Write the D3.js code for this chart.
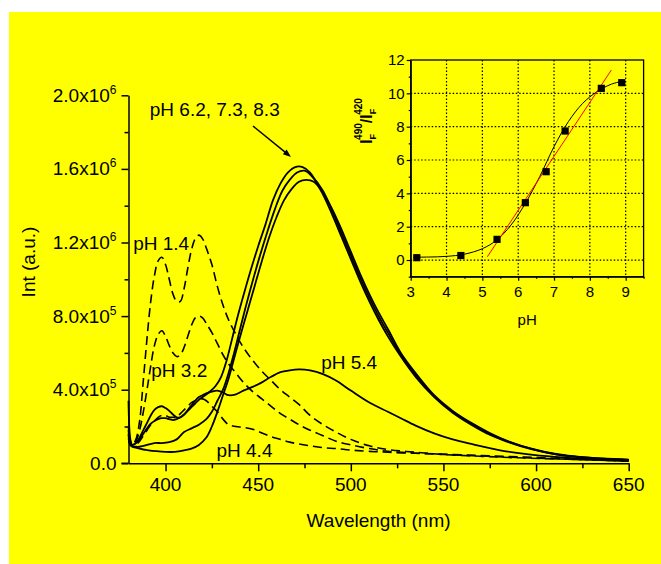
<!DOCTYPE html>
<html>
<head>
<meta charset="utf-8">
<title>Int vs wavelength</title>
<script src="https://cdn.jsdelivr.net/npm/d3@7"></script>
<style>
  body { margin: 0; background: #fff; }
  text { font-family: "Liberation Sans", Arial, sans-serif; fill: #000; }
</style>
</head>
<body>
<div id="chart"></div>
<script>

// Intensités en unités de 1e5
const UNIT = 1e5;

// --- courbes en pointillés (pH acides)
const wl_ph14  = [380,381,382,384,386,388,390,392,394,396,398,400,402,404,406,408,410,412,414,416,418,420,422,425,428,431,434,438,442,447,452,457,462,467,472,478,485,492,500,510,520,535,550,570,590,610,630,650];
const int_ph14 = [1.5,1.1,1.0,1.3,2.3,4.5,6.8,8.8,10.2,11.0,11.2,10.8,10.0,9.2,8.8,8.8,9.5,10.6,11.6,12.2,12.4,12.2,11.7,10.8,9.6,8.6,7.8,7.0,6.3,5.6,5.0,4.5,4.0,3.6,3.2,2.6,2.1,1.7,1.3,0.95,0.75,0.6,0.48,0.38,0.3,0.24,0.18,0.12];

const wl_ph32  = [380,381,382,384,386,388,390,392,394,396,398,400,402,404,406,408,410,412,414,416,418,420,422,425,428,431,434,438,442,447,452,457,462,467,472,478,485,492,500,510,520,535,550,570,590,610,630,650];
const int_ph32 = [1.4,1.0,0.95,1.2,1.8,2.8,4.0,5.3,6.4,7.0,7.2,6.9,6.4,6.0,5.8,5.9,6.3,6.9,7.5,7.9,8.0,7.9,7.6,7.1,6.5,5.9,5.4,4.9,4.4,3.9,3.5,3.1,2.7,2.4,2.1,1.8,1.5,1.2,1.0,0.8,0.65,0.55,0.48,0.4,0.32,0.25,0.18,0.12];

const wl_ph44  = [380,381,382,384,386,388,390,392,394,396,398,400,402,404,406,408,410,412,414,416,418,420,422,425,428,431,434,438,442,447,452,457,462,467,472,478,485,492,500,510,520,535,550,570,590,610,630,650];
const int_ph44 = [1.3,1.0,0.95,1.0,1.2,1.5,1.8,2.1,2.3,2.5,2.6,2.6,2.5,2.5,2.5,2.7,2.9,3.1,3.3,3.4,3.5,3.5,3.4,3.1,2.8,2.4,2.1,2.0,1.95,1.85,1.65,1.45,1.3,1.15,1.05,0.95,0.85,0.8,0.72,0.65,0.6,0.55,0.5,0.42,0.35,0.27,0.2,0.14];

// --- courbes continues
const wl_ph54  = [380,381,382,384,386,388,390,392,394,396,398,400,402,404,406,408,410,412,414,416,418,420,422,425,428,431,434,438,442,447,452,457,462,467,472,478,485,492,500,510,520,527,535,545,555,565,580,595,610,630,650];
const int_ph54 = [1.8,1.1,1.0,1.1,1.4,1.8,2.2,2.6,2.9,3.05,3.1,3.0,2.85,2.65,2.5,2.5,2.65,2.9,3.15,3.4,3.6,3.7,3.8,3.9,3.95,3.85,3.7,3.75,3.95,4.15,4.4,4.7,4.95,5.05,5.1,5.05,4.85,4.5,3.95,3.3,2.8,2.45,2.05,1.63,1.3,1.05,0.72,0.5,0.35,0.22,0.14];

const wl_ph62  = [380,381,382,384,386,388,390,392,394,396,398,400,402,404,406,408,410,412,414,416,418,420,424,427,430,433,436,439,442,446,450,454,458,462,466,470,474,478,485,490,495,500,505,510,515,520,527,535,545,555,565,575,585,598,610,625,650];
const int_ph62 = [3.4,1.3,1.0,1.1,1.3,1.6,1.9,2.15,2.3,2.4,2.45,2.45,2.4,2.35,2.4,2.5,2.65,2.85,3.05,3.25,3.45,3.6,3.9,4.2,4.7,5.6,6.8,8.0,9.1,10.5,11.8,13.0,14.3,15.2,15.8,16.1,16.1,15.8,14.6,13.5,12.3,11.1,9.9,8.8,7.8,6.9,5.8,4.7,3.6,2.75,2.1,1.55,1.15,0.75,0.5,0.32,0.18];

const wl_ph73  = [380,381,382,384,386,388,390,394,398,402,406,410,414,418,422,425,428,431,434,437,440,443,447,451,455,459,463,467,471,475,479,485,490,495,500,505,510,515,520,527,535,545,555,565,575,585,598,610,625,650];
const int_ph73 = [2.0,1.2,0.95,0.9,0.9,0.95,1.0,1.1,1.1,1.15,1.3,1.7,1.9,2.1,2.4,2.8,3.4,4.0,4.9,6.0,7.2,8.4,9.9,11.3,12.6,13.8,14.8,15.4,15.8,15.9,15.6,14.8,13.7,12.5,11.3,10.1,9.0,8.0,7.1,5.9,4.8,3.65,2.8,2.15,1.6,1.18,0.77,0.5,0.32,0.18];

const wl_ph83  = [380,381,382,384,386,388,390,395,400,405,410,414,418,422,425,428,431,434,437,440,444,448,452,456,460,464,468,472,476,480,485,490,495,500,505,510,515,520,527,535,545,555,565,575,585,598,610,625,650];
const int_ph83 = [1.6,1.0,0.9,0.85,0.8,0.75,0.72,0.66,0.62,0.62,0.7,0.8,1.0,1.4,2.0,2.8,3.7,4.6,5.7,6.8,8.2,9.6,11.0,12.3,13.4,14.3,14.9,15.3,15.4,15.3,14.7,13.8,12.7,11.5,10.3,9.2,8.2,7.3,6.0,4.9,3.7,2.85,2.2,1.65,1.2,0.78,0.52,0.33,0.2];

// Ticks axe principal
const xMajor = [400, 450, 500, 550, 600, 650];
const xMinor = [425, 475, 525, 575, 625];
const yMajor = [0, 4e5, 8e5, 1.2e6, 1.6e6, 2e6];
const yMinor = [2e5, 6e5, 1e6, 1.4e6, 1.8e6];
const yTickMant = ["0.0", "4.0x10", "8.0x10", "1.2x10", "1.6x10", "2.0x10"];
const yTickExp  = ["", "5", "5", "6", "6", "6"];

// Annotations (position en coordonnées données : lambda, intensité/1e5)
const annoText = ["pH 6.2, 7.3, 8.3", "pH 1.4", "pH 3.2", "pH 4.4", "pH 5.4"];
const annoWl   = [391.5, 382.5, 392.3, 427.5, 484];
const annoInt  = [18.9, 11.6, 4.7, 0.35, 5.12];
const arrowFrom = [447.2, 18.33];
const arrowTo   = [467.7, 16.65];

// --- encart : rapport I490/I420 selon pH
const ph_pts    = [3.17, 4.40, 5.41, 6.20, 6.78, 7.31, 8.32, 8.89];
const ratio_pts = [0.14, 0.27, 1.24, 3.44, 5.30, 7.74, 10.3, 10.64];
const ph_fit    = [3.07, 3.5, 4.0, 4.5, 5.0, 5.4, 5.8, 6.2, 6.6, 7.0, 7.4, 7.8, 8.2, 8.6, 8.9];
const ratio_fit = [0.17, 0.18, 0.22, 0.35, 0.68, 1.2, 2.1, 3.4, 5.0, 6.8, 8.3, 9.4, 10.1, 10.55, 10.72];
const ph_lin    = [5.14, 8.60];
const ratio_lin = [0.2, 11.4];
const insetXTicks = [3, 4, 5, 6, 7, 8, 9];
const insetYTicks = [0, 2, 4, 6, 8, 10, 12];

// Dimensions
const W = 661, H = 564;

const svg = d3.select("#chart")
  .append("svg")
  .attr("width", W)
  .attr("height", H);

// Fond jaune
svg.append("rect")
  .attr("x", 9).attr("y", 12)
  .attr("width", W - 9).attr("height", H - 12)
  .attr("fill", "#ffff00");

// Échelles
const x = d3.scaleLinear().domain([380, 650]).range([128.5, 628.7]);
const y = d3.scaleLinear().domain([0, 2e6]).range([463.3, 95.3]);

const line = d3.line()
  .x(d => x(d[0]))
  .y(d => y(d[1] * UNIT))
  .curve(d3.curveCatmullRom.alpha(0.5));

const series = [
  { wl: wl_ph14, v: int_ph14, dash: true },
  { wl: wl_ph32, v: int_ph32, dash: true },
  { wl: wl_ph44, v: int_ph44, dash: true },
  { wl: wl_ph54, v: int_ph54, dash: false },
  { wl: wl_ph62, v: int_ph62, dash: false },
  { wl: wl_ph73, v: int_ph73, dash: false },
  { wl: wl_ph83, v: int_ph83, dash: false }
];

svg.selectAll(".spec")
  .data(series)
  .enter().append("path")
  .attr("class", "spec")
  .attr("d", s => line(d3.zip(s.wl, s.v)))
  .attr("fill", "none")
  .attr("stroke", "#000")
  .attr("stroke-width", s => s.dash ? 1.6 : 1.8)
  .attr("stroke-dasharray", s => s.dash ? "9,5" : null);

// Axe X
const gx = svg.append("g").attr("transform", `translate(0,${y(0)})`);
gx.call(d3.axisBottom(x).tickValues(xMajor).tickSize(8).tickSizeOuter(0).tickFormat(""));
gx.append("g").call(d3.axisBottom(x).tickValues(xMinor).tickSize(5).tickSizeOuter(0).tickFormat(""))
  .select(".domain").remove();
gx.selectAll("line, path").attr("stroke", "#000").attr("stroke-width", 1.5);
gx.append("line").attr("x1", x(380) - 7).attr("x2", x(380)).attr("stroke", "#000").attr("stroke-width", 1.5);

svg.selectAll(".xlab")
  .data(xMajor)
  .enter().append("text")
  .attr("class", "xlab")
  .attr("x", d => x(d))
  .attr("y", y(0) + 28)
  .attr("text-anchor", "middle")
  .style("font-size", "19px")
  .text(d => d);

// Axe Y
const gy = svg.append("g").attr("transform", `translate(${x(380)},0)`);
gy.call(d3.axisLeft(y).tickValues(yMajor).tickSize(7).tickSizeOuter(0).tickFormat(""));
gy.append("g").call(d3.axisLeft(y).tickValues(yMinor).tickSize(4).tickSizeOuter(0).tickFormat(""))
  .select(".domain").remove();
gy.selectAll("line, path").attr("stroke", "#000").attr("stroke-width", 1.5);

const ylab = svg.selectAll(".ylab")
  .data(yMajor)
  .enter().append("text")
  .attr("class", "ylab")
  .attr("x", x(380) - 12)
  .attr("y", d => y(d) + 6.5)
  .attr("text-anchor", "end")
  .style("font-size", "19px");
ylab.append("tspan").text((d, i) => yTickMant[i]);
ylab.append("tspan").attr("dy", -8).style("font-size", "12px").text((d, i) => yTickExp[i]);

// Titres des axes
svg.append("text")
  .attr("x", x(515)).attr("y", 527)
  .attr("text-anchor", "middle")
  .style("font-size", "19px")
  .text("Wavelength (nm)");

svg.append("text")
  .attr("transform", "translate(35,262) rotate(-90)")
  .attr("text-anchor", "middle")
  .style("font-size", "19px")
  .text("Int (a.u.)");

// Annotations
svg.selectAll(".anno")
  .data(annoText)
  .enter().append("text")
  .attr("class", "anno")
  .attr("x", (d, i) => x(annoWl[i]))
  .attr("y", (d, i) => y(annoInt[i] * UNIT))
  .style("font-size", "19px")
  .text(d => d);

// Flèche
const ax1 = x(arrowFrom[0]), ay1 = y(arrowFrom[1] * UNIT);
const ax2 = x(arrowTo[0]), ay2 = y(arrowTo[1] * UNIT);
const ang = Math.atan2(ay2 - ay1, ax2 - ax1);
svg.append("line")
  .attr("x1", ax1).attr("y1", ay1).attr("x2", ax2 - 4 * Math.cos(ang)).attr("y2", ay2 - 4 * Math.sin(ang))
  .attr("stroke", "#000").attr("stroke-width", 1.5);
const hl = 8, hw = 3;
svg.append("polygon")
  .attr("points", [
    [ax2, ay2],
    [ax2 - hl * Math.cos(ang) + hw * Math.sin(ang), ay2 - hl * Math.sin(ang) - hw * Math.cos(ang)],
    [ax2 - hl * Math.cos(ang) - hw * Math.sin(ang), ay2 - hl * Math.sin(ang) + hw * Math.cos(ang)]
  ].map(p => p.join(",")).join(" "))
  .attr("fill", "#000");

// ---------------- Encart ----------------
const xi = d3.scaleLinear().domain([3, 9.5]).range([410.7, 643.6]);
const yi = d3.scaleLinear().domain([-1, 12]).range([276.7, 60]);
const inset = svg.append("g");

// Grille pointillée
inset.selectAll(".vg")
  .data(insetXTicks.slice(1))
  .enter().append("line")
  .attr("x1", d => xi(d)).attr("x2", d => xi(d))
  .attr("y1", yi(12)).attr("y2", yi(-1))
  .attr("stroke", "#000").attr("stroke-width", 1).attr("stroke-dasharray", "1.5,2");
inset.selectAll(".hg")
  .data(insetYTicks.slice(0, -1))
  .enter().append("line")
  .attr("x1", xi(3)).attr("x2", xi(9.5))
  .attr("y1", d => yi(d)).attr("y2", d => yi(d))
  .attr("stroke", "#000").attr("stroke-width", 1).attr("stroke-dasharray", "1.5,2");

// Cadre
inset.append("rect")
  .attr("x", xi(3)).attr("y", yi(12))
  .attr("width", xi(9.5) - xi(3)).attr("height", yi(-1) - yi(12))
  .attr("fill", "none").attr("stroke", "#000").attr("stroke-width", 1.3);

// Ticks encart
const gxi = inset.append("g").attr("transform", `translate(0,${yi(-1)})`);
gxi.call(d3.axisBottom(xi).tickValues(insetXTicks).tickSize(4).tickSizeOuter(0).tickFormat(""));
gxi.append("g").call(d3.axisBottom(xi).tickValues([3.5, 4.5, 5.5, 6.5, 7.5, 8.5, 9.5]).tickSize(2).tickSizeOuter(0).tickFormat(""))
  .select(".domain").remove();
const gyi = inset.append("g").attr("transform", `translate(${xi(3)},0)`);
gyi.call(d3.axisLeft(yi).tickValues(insetYTicks).tickSize(4).tickSizeOuter(0).tickFormat(""));
gyi.append("g").call(d3.axisLeft(yi).tickValues([-1, 1, 3, 5, 7, 9, 11]).tickSize(2).tickSizeOuter(0).tickFormat(""))
  .select(".domain").remove();
inset.selectAll("g line, g path").attr("stroke", "#000").attr("stroke-width", 1.2);

inset.selectAll(".ixl")
  .data(insetXTicks)
  .enter().append("text")
  .attr("x", d => xi(d)).attr("y", yi(-1) + 20)
  .attr("text-anchor", "middle")
  .style("font-size", "15px")
  .text(d => d);
inset.selectAll(".iyl")
  .data(insetYTicks)
  .enter().append("text")
  .attr("x", xi(3) - 6).attr("y", d => yi(d) + 5.3)
  .attr("text-anchor", "end")
  .style("font-size", "15px")
  .text(d => d);

inset.append("text")
  .attr("x", xi(6.25)).attr("y", 325)
  .attr("text-anchor", "middle")
  .style("font-size", "15px")
  .text("pH");

// Titre Y de l'encart : I_F^490 / I_F^420
const yt = inset.append("text")
  .attr("transform", "translate(372,121) rotate(-90)")
  .attr("text-anchor", "middle")
  .style("font-size", "16px")
  .style("font-weight", "bold");
yt.append("tspan").text("I");
yt.append("tspan").attr("dy", 4).style("font-size", "9px").text("F");
yt.append("tspan").attr("dx", -6).attr("dy", -14).style("font-size", "10px").text("490");
yt.append("tspan").attr("dy", 10).text("/I");
yt.append("tspan").attr("dy", 4).style("font-size", "9px").text("F");
yt.append("tspan").attr("dx", -6).attr("dy", -14).style("font-size", "10px").text("420");

// Ajustement sigmoïde, droite rouge, points
inset.append("path")
  .attr("d", d3.line().x(d => xi(d[0])).y(d => yi(d[1])).curve(d3.curveCatmullRom.alpha(0.5))(d3.zip(ph_fit, ratio_fit)))
  .attr("fill", "none").attr("stroke", "#000").attr("stroke-width", 1);

inset.append("path")
  .attr("d", d3.line().x(d => xi(d[0])).y(d => yi(d[1]))(d3.zip(ph_lin, ratio_lin)))
  .attr("fill", "none").attr("stroke", "#ff0000").attr("stroke-width", 1);

inset.selectAll(".pt")
  .data(d3.zip(ph_pts, ratio_pts))
  .enter().append("rect")
  .attr("x", d => xi(d[0]) - 3.6).attr("y", d => yi(d[1]) - 3.6)
  .attr("width", 7.2).attr("height", 7.2)
  .attr("fill", "#000");

</script>
</body>
</html>
